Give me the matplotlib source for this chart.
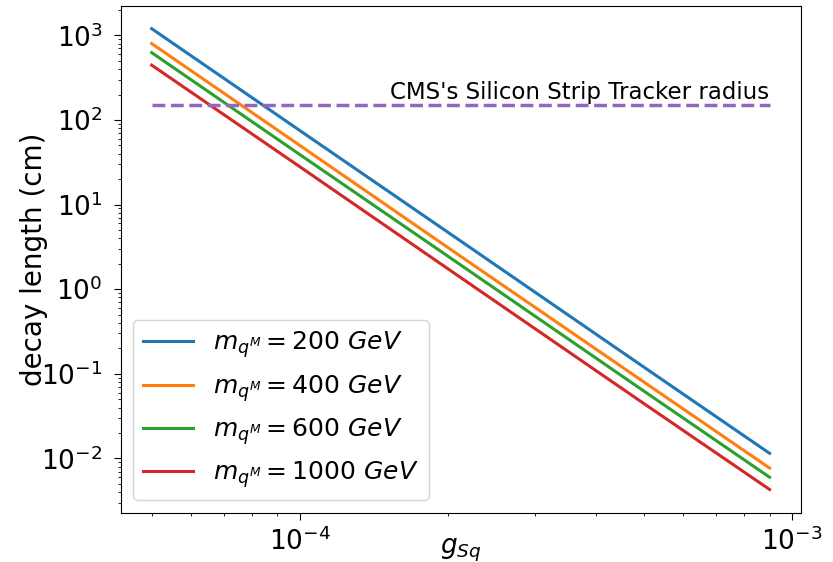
import matplotlib
matplotlib.use('Agg')
import matplotlib.pyplot as plt

# acoplamiento g_Sq
g_sq = [5e-5, 1e-4, 2e-4, 5e-4, 9e-4]

# longitud de decaimiento (cm) para cada masa
masas = [200, 400, 600, 1000]
decay_200 = [1200, 75, 4.7, 0.12, 0.0115]
decay_400 = [800, 50, 3.1, 0.08, 0.0077]
decay_600 = [625, 39, 2.45, 0.0625, 0.006]
decay_1000 = [445, 28, 1.74, 0.0445, 0.0043]
series = [decay_200, decay_400, decay_600, decay_1000]

radio_tracker = 150  # cm

fig = plt.figure(figsize=(8.33, 5.62), dpi=100)
ax = fig.add_axes([0.145, 0.088, 0.816, 0.902])

for m, vals in zip(masas, series):
    ax.plot(g_sq, vals, lw=2.2, label=r'$m_{q^M} = %d\ GeV$' % m)

ax.plot([g_sq[0], g_sq[-1]], [radio_tracker, radio_tracker], '--', color='C4', lw=2.5)
ax.text(g_sq[-1], radio_tracker * 1.03, "CMS's Silicon Strip Tracker radius",
        ha='right', va='bottom', fontsize=16.5)

ax.set_xscale('log')
ax.set_yscale('log')
ax.tick_params(labelsize=19)
ax.tick_params(axis='both', which='major', length=5)
ax.tick_params(axis='y', pad=8)
ax.tick_params(axis='x', pad=6)
ax.set_xlabel(r'$g_{Sq}$', fontsize=19, labelpad=-14)
ax.set_ylabel('decay length (cm)', fontsize=20)
ax.yaxis.set_label_coords(-0.107, 0.5)
ax.legend(loc='lower left', fontsize=18)

plt.savefig('out.png')
